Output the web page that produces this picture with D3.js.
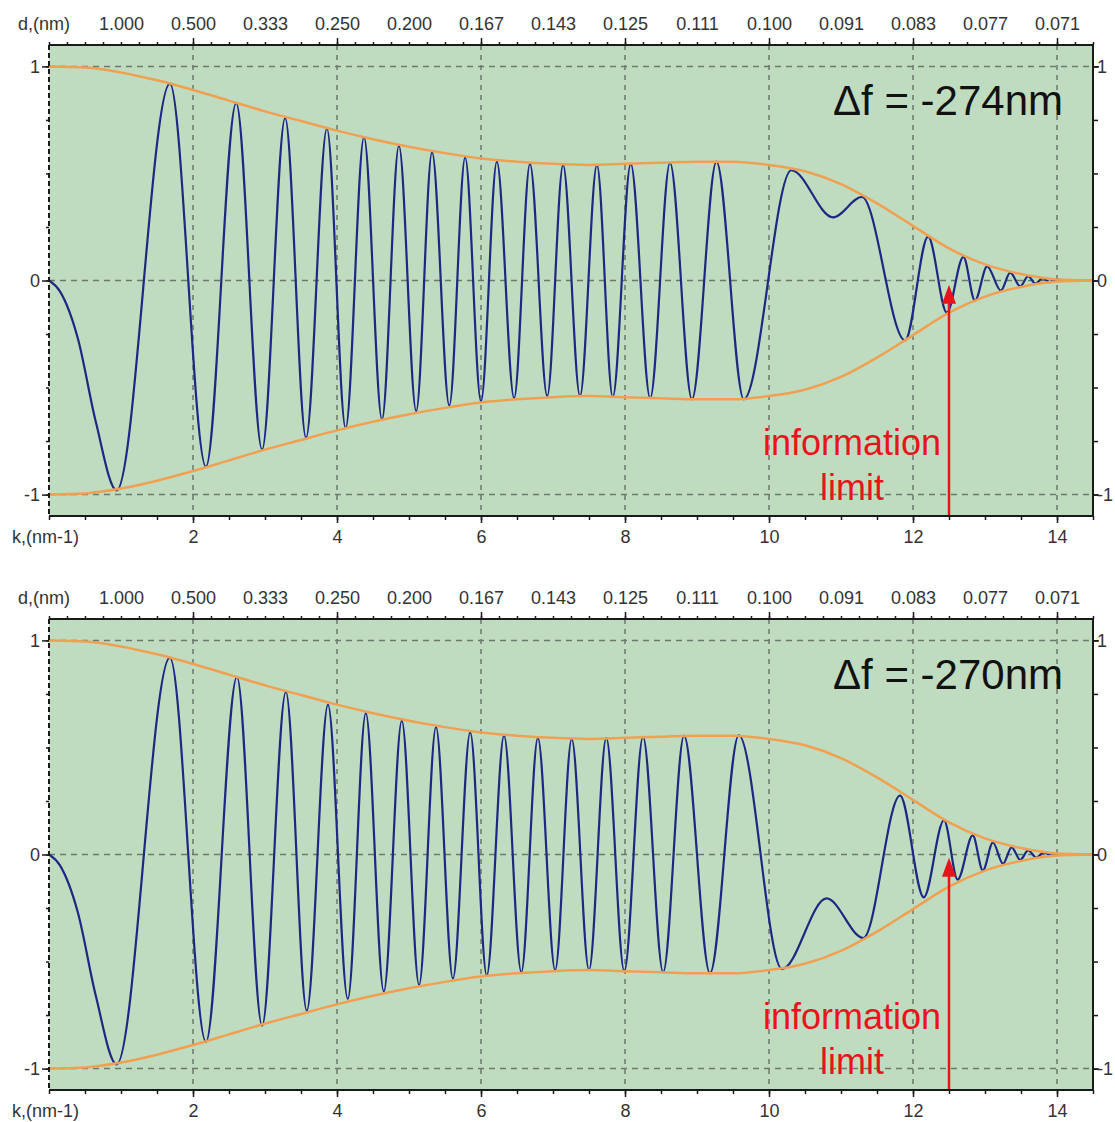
<!DOCTYPE html>
<html>
<head>
<meta charset="utf-8">
<script src="https://cdn.jsdelivr.net/npm/d3@7"></script>
<style>
  body { margin: 0; background: #fff; }
  svg { display: block; font-family: "Liberation Sans", Arial, sans-serif; }
  .tick text { fill: #333; font-size: 18px; }
</style>
</head>
<body>
<svg id="chart" width="1115" height="1122"></svg>
<script>
// --- Data ---
const kLabelTicks = [2, 4, 6, 8, 10, 12, 14];
const dTickK = [1, 2, 3, 4, 5, 6, 7, 8, 9, 10, 11, 12, 13, 14];
const dTickLabels = ["1.000", "0.500", "0.333", "0.250", "0.200", "0.167", "0.143",
  "0.125", "0.111", "0.100", "0.091", "0.083", "0.077", "0.071"];
const yLabelTicks = [-1, 0, 1];
const defocusLabels = ["\u0394f = -274nm", "\u0394f = -270nm"];
const infoLimitK = 12.5;
const infoArrowTip = [-0.02, -0.015];

// damping envelope (upper half, the lower one is its mirror)
const envelopeK = [0, 0.5, 1, 1.5, 2, 2.5, 3, 3.5, 4, 4.5, 5, 5.5, 6, 6.5, 7, 7.5,
  8, 8.5, 9, 9.5, 10, 10.5, 11, 11.5, 12, 12.5, 13, 13.5, 14, 14.5];
const envelopeV = [1.0, 0.995, 0.972, 0.935, 0.89, 0.84, 0.79, 0.745, 0.70, 0.66,
  0.625, 0.595, 0.57, 0.555, 0.545, 0.54, 0.545, 0.55, 0.555, 0.555, 0.54, 0.51,
  0.45, 0.36, 0.255, 0.15, 0.075, 0.03, 0.005, 0];

// CTF: start, first lobe and then the extrema
const ctf274K = [0, 0.15, 0.4, 0.65, 0.94, 1.68, 2.18, 2.60, 2.96, 3.28, 3.57, 3.86,
  4.12, 4.375, 4.625, 4.86, 5.10, 5.32, 5.56, 5.78, 6.00, 6.22, 6.46, 6.68, 6.92,
  7.14, 7.375, 7.61, 7.83, 8.08, 8.35, 8.625, 8.93, 9.27, 9.65, 10.31, 10.89, 11.29,
  11.89, 12.21, 12.47, 12.70, 12.86, 13.03, 13.22, 13.35, 13.49, 13.60, 13.70, 13.80,
  13.90, 14.00, 14.10, 14.5];
const ctf274V = [0, -0.05, -0.27, -0.66, -0.98, 0.92, -0.87, 0.83, -0.79, 0.76, -0.735,
  0.71, -0.69, 0.67, -0.65, 0.63, -0.61, 0.60, -0.585, 0.575, -0.565, 0.555, -0.55,
  0.545, -0.54, 0.54, -0.54, 0.54, -0.545, 0.545, -0.55, 0.55, -0.555, 0.555, -0.555,
  0.515, 0.295, 0.39, -0.28, 0.205, -0.15, 0.11, -0.094, 0.066, -0.047, 0.037, -0.027,
  0.02, -0.015, 0.011, -0.008, 0.004, 0, 0];

const ctf270K = [0, 0.15, 0.4, 0.65, 0.94, 1.68, 2.18, 2.61, 2.96, 3.29, 3.58, 3.875,
  4.15, 4.40, 4.65, 4.90, 5.14, 5.375, 5.61, 5.85, 6.08, 6.32, 6.56, 6.79, 7.03,
  7.26, 7.50, 7.74, 7.99, 8.25, 8.53, 8.82, 9.18, 9.58, 10.18, 10.80, 11.31, 11.82,
  12.15, 12.43, 12.62, 12.83, 12.97, 13.11, 13.25, 13.37, 13.49, 13.60, 13.71, 13.82,
  13.93, 14.04, 14.5];
const ctf270V = [0, -0.05, -0.27, -0.66, -0.98, 0.92, -0.875, 0.83, -0.80, 0.76, -0.73,
  0.70, -0.675, 0.66, -0.64, 0.625, -0.61, 0.595, -0.58, 0.57, -0.565, 0.555, -0.55,
  0.545, -0.54, 0.54, -0.54, 0.545, -0.545, 0.55, -0.55, 0.555, -0.555, 0.557, -0.535,
  -0.205, -0.39, 0.275, -0.2, 0.16, -0.117, 0.089, -0.075, 0.056, -0.043, 0.033, -0.025,
  0.019, -0.014, 0.01, -0.007, 0, 0];

const curves = [[ctf274K, ctf274V], [ctf270K, ctf270V]];

// --- Layout ---
const panelTops = [45, 619];
const plotHeight = 471;
const svg = d3.select("#chart");
const x = d3.scaleLinear().domain([0, 14.5]).range([49, 1093]);

const colors = {
  bg: "#c0dcc0", grid: "#6c786c", frame: "#1a1a1a",
  ctf: "#1c2882", env: "#f0a050", red: "#e8141b"
};

curves.forEach(([ks, vs], i) => {
  const top = panelTops[i];
  const bottom = top + plotHeight;
  const y = d3.scaleLinear().domain([-1.1, 1.1]).range([bottom, top]);
  const g = svg.append("g");

  g.append("rect")
    .attr("x", x(0)).attr("y", top)
    .attr("width", x(14.5) - x(0)).attr("height", plotHeight)
    .attr("fill", colors.bg);

  const clipId = "clip" + i;
  g.append("clipPath").attr("id", clipId).append("rect")
    .attr("x", x(0)).attr("y", top)
    .attr("width", x(14.5) - x(0)).attr("height", plotHeight);

  // grid
  g.append("g").selectAll("line").data(kLabelTicks).join("line")
    .attr("x1", d => x(d)).attr("x2", d => x(d))
    .attr("y1", top).attr("y2", bottom)
    .attr("stroke", colors.grid).attr("stroke-width", 1.5)
    .attr("stroke-dasharray", "5,5");
  g.append("g").selectAll("line").data(yLabelTicks).join("line")
    .attr("x1", x(0)).attr("x2", x(14.5))
    .attr("y1", d => y(d)).attr("y2", d => y(d))
    .attr("stroke", colors.grid).attr("stroke-width", 1.5)
    .attr("stroke-dasharray", "6,5");

  // curves
  const plot = g.append("g").attr("clip-path", `url(#${clipId})`);
  const ctfLine = d3.line()
    .x(d => x(d[0])).y(d => y(d[1]))
    .curve(d3.curveMonotoneX);
  plot.append("path")
    .datum(ks.map((k, j) => [k, vs[j]]))
    .attr("d", ctfLine)
    .attr("fill", "none").attr("stroke", colors.ctf).attr("stroke-width", 2.2);

  const envUpper = envelopeK.map((k, j) => [k, envelopeV[j]]);
  const envLower = envelopeK.map((k, j) => [k, -envelopeV[j]]);
  [envUpper, envLower].forEach(env => {
    plot.append("path")
      .datum(env)
      .attr("d", ctfLine)
      .attr("fill", "none").attr("stroke", colors.env).attr("stroke-width", 2.5);
  });

  // information limit arrow
  const ax = x(infoLimitK);
  const tipY = y(infoArrowTip[i]);
  g.append("line")
    .attr("x1", ax).attr("x2", ax)
    .attr("y1", bottom).attr("y2", tipY + 14)
    .attr("stroke", colors.red).attr("stroke-width", 2.5);
  g.append("path")
    .attr("d", `M${ax},${tipY} L${ax - 7},${tipY + 19} L${ax + 7},${tipY + 19} Z`)
    .attr("fill", colors.red);

  g.append("text")
    .attr("x", ax - 97).attr("y", top + 410)
    .attr("text-anchor", "middle")
    .attr("font-size", 36).attr("fill", colors.red)
    .text("information");
  g.append("text")
    .attr("x", ax - 97).attr("y", top + 455)
    .attr("text-anchor", "middle")
    .attr("font-size", 36).attr("fill", colors.red)
    .text("limit");

  g.append("text")
    .attr("x", 1063).attr("y", top + 70)
    .attr("text-anchor", "end")
    .attr("font-size", 42).attr("fill", "#111")
    .text(defocusLabels[i]);

  // --- Axes ---
  const minorTop = d3.range(0, 14.51, 0.25);
  const minorBottom = d3.range(0, 14.51, 0.5);
  const minorY = d3.range(-1, 1.01, 0.25);

  const styleTicks = sel => {
    sel.select(".domain").remove();
    sel.selectAll(".tick line").attr("stroke", colors.frame).attr("stroke-width", 1.5);
  };

  g.append("g").attr("transform", `translate(0,${top})`)
    .call(d3.axisTop(x).tickValues(minorTop).tickSize(3).tickFormat(""))
    .call(styleTicks);
  g.append("g").attr("transform", `translate(0,${top})`)
    .call(d3.axisTop(x).tickValues(kLabelTicks).tickSize(7).tickFormat(""))
    .call(styleTicks);
  g.append("g").attr("transform", `translate(0,${top})`)
    .call(d3.axisTop(x).tickValues(dTickK).tickSize(0).tickPadding(15)
      .tickFormat((d, j) => dTickLabels[j]))
    .call(styleTicks);

  g.append("g").attr("transform", `translate(0,${bottom})`)
    .call(d3.axisBottom(x).tickValues(minorBottom).tickSize(4).tickFormat(""))
    .call(styleTicks);
  g.append("g").attr("transform", `translate(0,${bottom})`)
    .call(d3.axisBottom(x).tickValues(kLabelTicks).tickSize(7).tickPadding(7)
      .tickFormat(d => String(d)))
    .call(styleTicks);

  g.append("g").attr("transform", `translate(${x(0)},0)`)
    .call(d3.axisLeft(y).tickValues(minorY).tickSize(3).tickFormat(""))
    .call(styleTicks);
  g.append("g").attr("transform", `translate(${x(0)},0)`)
    .call(d3.axisLeft(y).tickValues(yLabelTicks).tickSize(7).tickPadding(2)
      .tickFormat(d => String(d)))
    .call(styleTicks);

  g.append("g").attr("transform", `translate(${x(14.5)},0)`)
    .call(d3.axisRight(y).tickValues(minorY).tickSize(5).tickFormat(""))
    .call(styleTicks);
  g.append("g").attr("transform", `translate(${x(14.5)},0)`)
    .call(d3.axisRight(y).tickValues(yLabelTicks).tickSize(6).tickPadding(-2)
      .tickFormat(d => String(d)))
    .call(styleTicks)
    .call(sel => sel.selectAll(".tick text").attr("font-size", 17));

  // frame
  const frame = g.append("g").attr("fill", "none").attr("stroke", colors.frame).attr("stroke-width", 2);
  frame.append("path")
    .attr("d", `M${x(0)},${top} H${x(14.5)} V${bottom} H${x(0)}`);
  frame.append("line")
    .attr("x1", x(0)).attr("x2", x(0)).attr("y1", top).attr("y2", bottom)
    .attr("stroke-dasharray", "5,3");

  g.append("text")
    .attr("x", 18).attr("y", top - 15)
    .attr("font-size", 18).attr("fill", "#333")
    .text("d,(nm)");
  g.append("text")
    .attr("x", 12).attr("y", bottom + 27)
    .attr("font-size", 18).attr("fill", "#333")
    .text("k,(nm-1)");
});
</script>
</body>
</html>
